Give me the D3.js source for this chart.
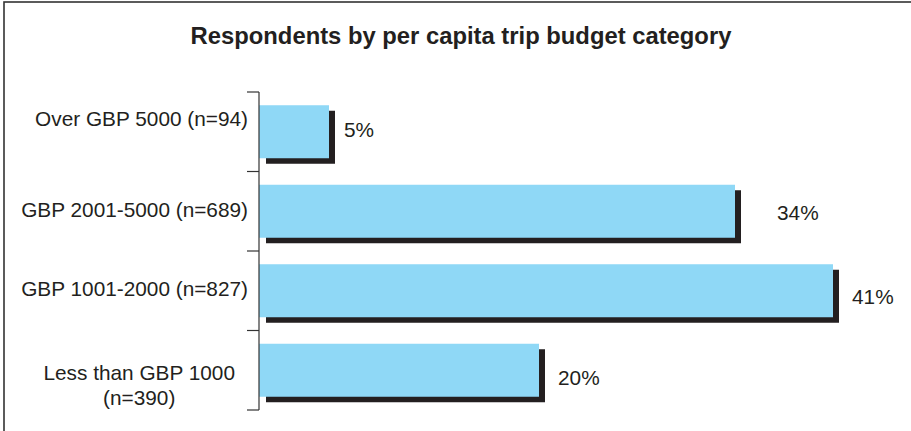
<!DOCTYPE html>
<html>
<head>
<meta charset="utf-8">
<script src="https://cdn.jsdelivr.net/npm/d3@7"></script>
<style>
  html, body { margin: 0; padding: 0; background: #fff; }
  svg { display: block; font-family: "Liberation Sans", Arial, Helvetica, sans-serif; }
</style>
</head>
<body>
<svg id="chart" width="911" height="431"></svg>
<script>
// Budget categories (top to bottom) and share of respondents in each
const categories = ["Over GBP 5000 (n=94)", "GBP 2001-5000 (n=689)", "GBP 1001-2000 (n=827)", "Less than GBP 1000\n(n=390)"];
const shares = [5, 34, 41, 20];
const valueLabels = ["5%", "34%", "41%", "20%"];
const chartTitle = "Respondents by per capita trip budget category";

// Layout tweaks for the text beside each bar
const valueLabelDx = [9, 36, 13, 13];
const valueLabelDy = [-2.5, 1, 5.5, 7.5];
const categoryLabelDy = [-13, -1.5, -2.5, 14.5];

const W = 911, H = 431;
const ink = "#231f20";
const barFill = "#8fd8f6";

const svg = d3.select("#chart");

// Frame around the figure
svg.append("rect")
  .attr("x", 4).attr("y", 2)
  .attr("width", W + 20).attr("height", H + 20)
  .attr("fill", "none")
  .attr("stroke", "#333")
  .attr("stroke-width", 1.6);

// Title
svg.append("text")
  .attr("x", 461).attr("y", 44)
  .attr("text-anchor", "middle")
  .attr("font-size", 23.8)
  .attr("font-weight", "bold")
  .attr("fill", ink)
  .text(chartTitle);

const x = d3.scaleLinear().domain([0, 50]).range([259, 959]);
const y = d3.scaleBand()
  .domain(categories)
  .range([92, 410])
  .paddingInner(1 / 3)
  .paddingOuter(1 / 6);

const step = y.step();
const bw = y.bandwidth();
const shadowDx = 6, shadowDy = 5.5;

const rows = categories.map((c, i) => ({ cat: c, v: shares[i], label: valueLabels[i], i }));

// Drop shadows
svg.append("g").selectAll("rect")
  .data(rows).join("rect")
  .attr("x", d => x(0) + shadowDx + 1)
  .attr("y", d => y(d.cat) + shadowDy)
  .attr("width", d => x(d.v) - x(0) - 1)
  .attr("height", bw)
  .attr("fill", ink);

// Bars
svg.append("g").selectAll("rect")
  .data(rows).join("rect")
  .attr("x", x(0))
  .attr("y", d => y(d.cat))
  .attr("width", d => x(d.v) - x(0))
  .attr("height", bw)
  .attr("fill", barFill);

// Category axis: vertical line with ticks on band boundaries
const axisG = svg.append("g").attr("stroke", "#333").attr("stroke-width", 1.2);
const y0 = y.range()[0], y1 = y.range()[1];
axisG.append("line")
  .attr("x1", x(0)).attr("x2", x(0))
  .attr("y1", y0).attr("y2", y1);
const boundaries = d3.range(categories.length + 1).map(k => y0 + k * step);
axisG.selectAll("line.tick")
  .data(boundaries).join("line")
  .attr("class", "tick")
  .attr("x1", x(0) - 12).attr("x2", x(0))
  .attr("y1", d => d).attr("y2", d => d);

// Category labels
const fs = 20.8;
const labelG = svg.append("g")
  .attr("font-size", fs)
  .attr("fill", ink);
rows.forEach(d => {
  const lines = d.cat.split("\n");
  const cy = y(d.cat) + bw / 2 + categoryLabelDy[d.i];
  const t = labelG.append("text")
    .attr("text-anchor", lines.length > 1 ? "middle" : "end");
  const lh = fs * 1.2;
  lines.forEach((ln, k) => {
    t.append("tspan")
      .attr("x", 0)
      .attr("y", cy + (k - (lines.length - 1) / 2) * lh)
      .attr("dy", "0.35em")
      .text(ln);
  });
  if (lines.length > 1) {
    const maxW = d3.max(t.selectAll("tspan").nodes(), n => n.getComputedTextLength());
    t.attr("transform", `translate(${x(0) - 24 - maxW / 2},0)`);
  } else {
    t.attr("transform", `translate(${x(0) - 11},0)`);
  }
});

// Value labels
svg.append("g").selectAll("text")
  .data(rows).join("text")
  .attr("x", d => x(d.v) + shadowDx + valueLabelDx[d.i])
  .attr("y", d => y(d.cat) + bw / 2 + valueLabelDy[d.i])
  .attr("dy", "0.35em")
  .attr("font-size", fs)
  .attr("fill", ink)
  .text(d => d.label);
</script>
</body>
</html>
